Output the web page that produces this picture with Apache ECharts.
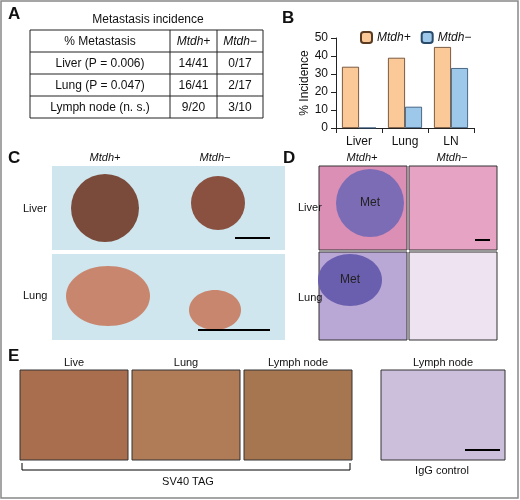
<!DOCTYPE html>
<html><head><meta charset="utf-8">
<script src="https://cdn.jsdelivr.net/npm/echarts@6/dist/echarts.min.js"></script>
<style>html,body{margin:0;padding:0;background:#fff}#c{width:520px;height:500px}</style>
</head><body><div id="c"></div>
<script>
const sites = ['Liver', 'Lung', 'LN'];
const mtdhPlus = [34, 39, 45];
const mtdhMinus = [0, 11.8, 33.3];
const yTicks = [0, 10, 20, 30, 40, 50];

const tableRows = [
  ['% Metastasis', 'Mtdh+', 'Mtdh−'],
  ['Liver (P = 0.006)', '14/41', '0/17'],
  ['Lung (P = 0.047)', '16/41', '2/17'],
  ['Lymph node (n. s.)', '9/20', '3/10']
];

const chart = echarts.init(document.getElementById('c'));
const F = 'Liberation Sans, Arial, sans-serif';

function txt(x, y, s, o) {
  return { type: 'text', x: x, y: y, style: Object.assign({ text: s, font: '11px ' + F, fill: '#111' }, o || {}) };
}
function box(x, y, w, h, fill, stroke) {
  return { type: 'rect', shape: { x: x, y: y, width: w, height: h }, style: { fill: fill, stroke: stroke || '#333', lineWidth: 1 } };
}

const g = [];
g.push({ type: 'rect', shape: { x: 1, y: 1, width: 517, height: 497 }, style: { fill: 'none', stroke: '#888', lineWidth: 1.5 } });
[['A', 8, 6], ['B', 282, 10], ['C', 8, 150], ['D', 283, 150], ['E', 8, 348]].forEach(p =>
  g.push(txt(p[1], p[2], p[0], { font: 'bold 17px ' + F })));

// table A
g.push(txt(148, 14, 'Metastasis incidence', { align: 'center', font: '12px ' + F }));
const colX = [30, 170, 217, 263], rowY = [30, 52, 74, 96, 118];
g.push({ type: 'rect', shape: { x: 30, y: 30, width: 233, height: 88 }, style: { fill: 'none', stroke: '#222' } });
rowY.slice(1, 4).forEach(y => g.push({ type: 'line', shape: { x1: 30, y1: y, x2: 263, y2: y }, style: { stroke: '#222' } }));
colX.slice(1, 3).forEach(x => g.push({ type: 'line', shape: { x1: x, y1: 30, x2: x, y2: 118 }, style: { stroke: '#222' } }));
tableRows.forEach((r, i) => r.forEach((c, j) => {
  const italic = (i === 0 && j > 0);
  g.push(txt((colX[j] + colX[j + 1]) / 2, rowY[i] + 6, c, { align: 'center', font: (italic ? 'italic ' : '') + '12px ' + F }));
}));

// panel C
g.push(txt(105, 152, 'Mtdh+', { align: 'center', font: 'italic 11px ' + F }));
g.push(txt(215, 152, 'Mtdh−', { align: 'center', font: 'italic 11px ' + F }));
g.push(box(52, 166, 233, 84, '#cfe6ee', 'none'));
g.push(box(52, 254, 233, 86, '#cfe6ee', 'none'));
g.push({ type: 'circle', shape: { cx: 105, cy: 208, r: 34 }, style: { fill: '#7a4a3a' } });
g.push({ type: 'circle', shape: { cx: 218, cy: 203, r: 27 }, style: { fill: '#8a5040' } });
g.push({ type: 'ellipse', shape: { cx: 108, cy: 296, rx: 42, ry: 30 }, style: { fill: '#c9866e' } });
g.push({ type: 'ellipse', shape: { cx: 215, cy: 310, rx: 26, ry: 20 }, style: { fill: '#c9866e' } });
g.push({ type: 'line', shape: { x1: 235, y1: 238, x2: 270, y2: 238 }, style: { stroke: '#000', lineWidth: 2 } });
g.push({ type: 'line', shape: { x1: 198, y1: 330, x2: 270, y2: 330 }, style: { stroke: '#000', lineWidth: 2 } });
g.push(txt(23, 203, 'Liver')); g.push(txt(23, 290, 'Lung'));

// panel D
g.push(txt(362, 152, 'Mtdh+', { align: 'center', font: 'italic 11px ' + F }));
g.push(txt(452, 152, 'Mtdh−', { align: 'center', font: 'italic 11px ' + F }));
g.push(box(319, 166, 88, 84, '#dc8fb5'));
g.push(box(409, 166, 88, 84, '#e6a3c3'));
g.push(box(319, 252, 88, 88, '#b9a7d6'));
g.push(box(409, 252, 88, 88, '#eee4f1'));
g.push({ type: 'circle', shape: { cx: 370, cy: 203, r: 34 }, style: { fill: '#7c6cb5' } });
g.push({ type: 'ellipse', shape: { cx: 350, cy: 280, rx: 32, ry: 26 }, style: { fill: '#6a5eae' } });
g.push(txt(370, 197, 'Met', { align: 'center', font: '12px ' + F, fill: '#222' }));
g.push(txt(350, 274, 'Met', { align: 'center', font: '12px ' + F, fill: '#222' }));
g.push({ type: 'line', shape: { x1: 475, y1: 240, x2: 490, y2: 240 }, style: { stroke: '#000', lineWidth: 2 } });
g.push(txt(298, 202, 'Liver')); g.push(txt(298, 292, 'Lung'));

// panel E
const eImgs = [[20, 'Live', '#a86e4e'], [132, 'Lung', '#b07c58'], [244, 'Lymph node', '#a57650'], [381, 'Lymph node', '#cbbfdc']];
eImgs.forEach(e => {
  const w = e[0] === 381 ? 124 : 108;
  g.push(box(e[0], 370, w, 90, e[2]));
  g.push(txt(e[0] + w / 2, 357, e[1], { align: 'center' }));
});
g.push({ type: 'polyline', shape: { points: [[22, 463], [22, 470], [350, 470], [350, 463]] }, style: { stroke: '#000', fill: 'none' } });
g.push(txt(188, 476, 'SV40 TAG', { align: 'center' }));
g.push(txt(442, 465, 'IgG control', { align: 'center' }));
g.push({ type: 'line', shape: { x1: 465, y1: 450, x2: 500, y2: 450 }, style: { stroke: '#000', lineWidth: 2 } });

chart.setOption({
  animation: false,
  textStyle: { fontFamily: F },
  legend: {
    top: 26, left: 355, itemWidth: 11, itemHeight: 11, itemGap: 10,
    textStyle: { fontSize: 12, fontStyle: 'italic', color: '#111' },
    data: ['Mtdh+', 'Mtdh−']
  },
  grid: { left: 336, right: 46, top: 38, bottom: 372 },
  xAxis: {
    type: 'category', data: sites,
    axisLine: { lineStyle: { color: '#222' } }, axisTick: { show: true, lineStyle: { color: '#222' } },
    axisLabel: { color: '#111', fontSize: 12 }
  },
  yAxis: {
    type: 'value', min: yTicks[0], max: yTicks[yTicks.length - 1], interval: 10,
    name: '% Incidence', nameLocation: 'middle', nameGap: 24, nameTextStyle: { fontSize: 12, color: '#111' },
    axisLine: { show: true, lineStyle: { color: '#222' } }, axisTick: { show: true },
    axisLabel: { color: '#111', fontSize: 12 }, splitLine: { show: false }
  },
  series: [
    { name: 'Mtdh+', type: 'bar', data: mtdhPlus, barWidth: 17, barGap: '0%',
      itemStyle: { color: '#fbc998', borderColor: '#5a3a20', borderWidth: 0.8 } },
    { name: 'Mtdh−', type: 'bar', data: mtdhMinus, barWidth: 17,
      itemStyle: { color: '#9ec8ea', borderColor: '#2a4a6a', borderWidth: 0.8 } }
  ],
  graphic: g
});
</script></body></html>
